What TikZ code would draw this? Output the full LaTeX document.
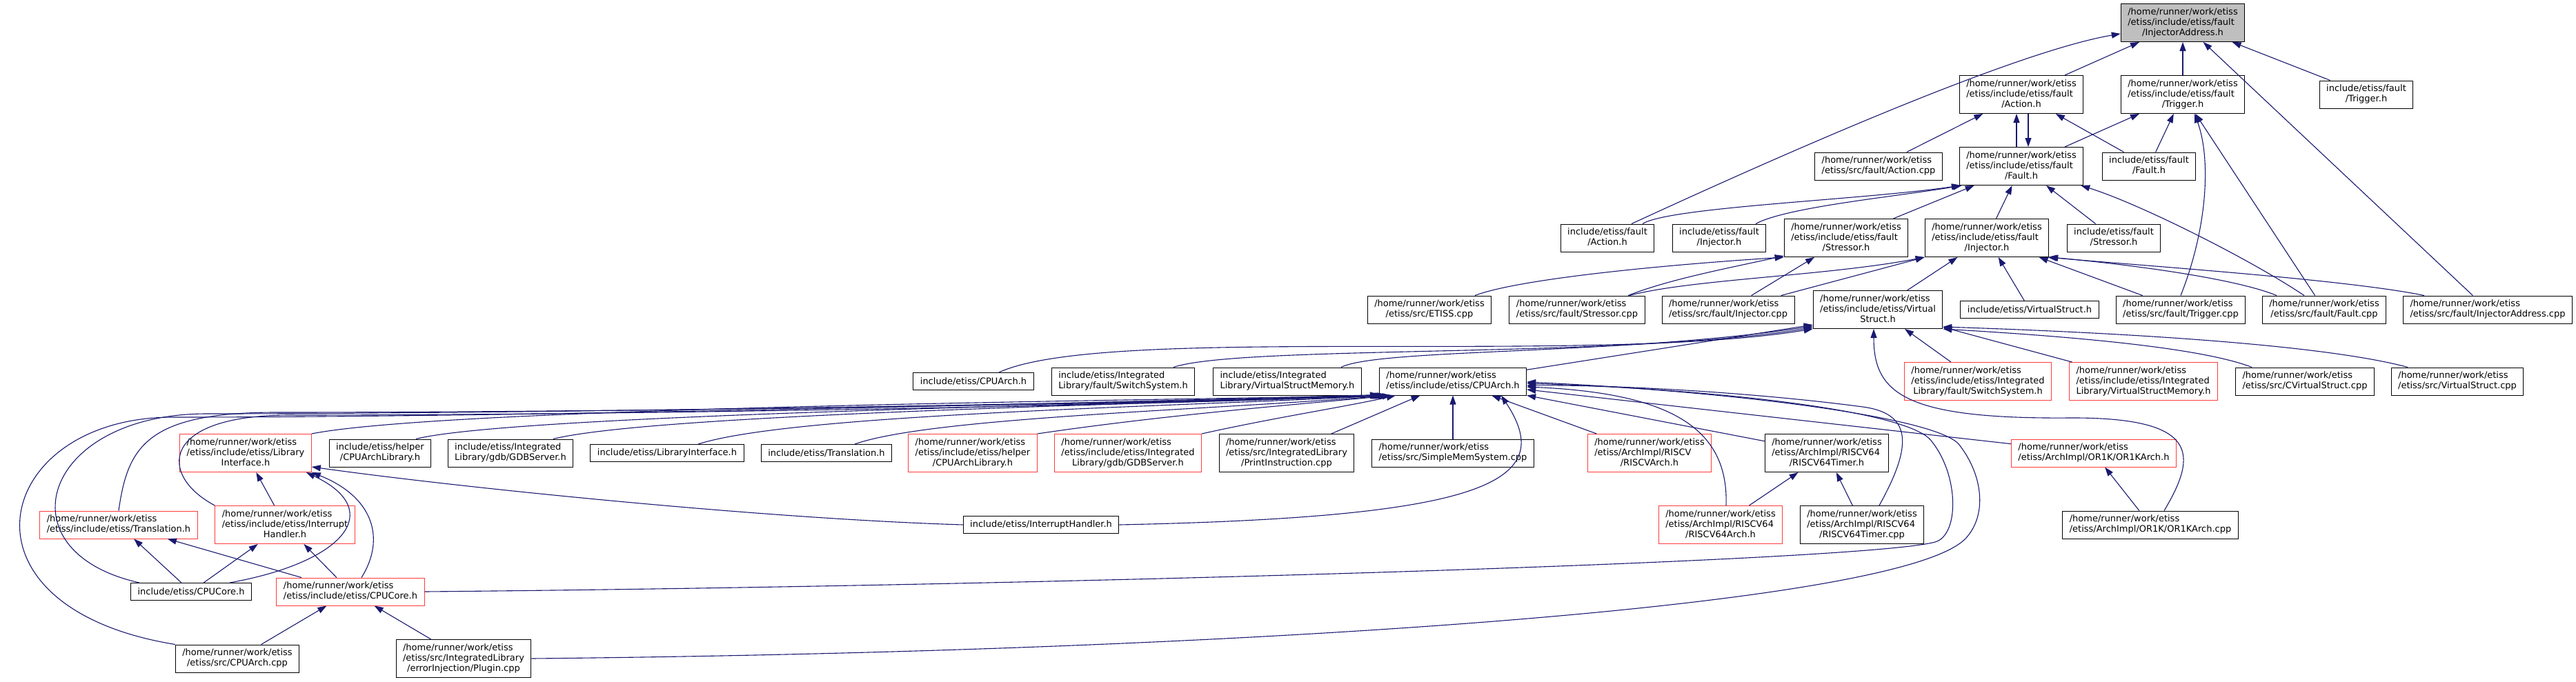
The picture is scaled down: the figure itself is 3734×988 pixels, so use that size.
\documentclass[tikz,border=0pt]{standalone}
\usepackage{fontspec}
\setmainfont{DejaVu Sans}
\usetikzlibrary{arrows.meta,positioning}
\definecolor{edgeblue}{RGB}{25,25,112}
\definecolor{truncred}{RGB}{255,60,60}
\definecolor{rootgray}{RGB}{191,191,191}
\newcommand{\twoline}[2]{\begin{tabular}{@{}l@{}}#1\\\multicolumn{1}{@{}c@{}}{#2}\end{tabular}}
\newcommand{\threeline}[3]{\begin{tabular}{@{}l@{}}#1\\#2\\\multicolumn{1}{@{}c@{}}{#3}\end{tabular}}
\newcommand{\hm}{/home/runner/work/etiss}

\begin{document}
\begin{tikzpicture}[x=1pt, y=-1pt,
  file/.style={draw=black, line width=1pt, fill=white, inner xsep=10pt, inner ysep=5pt, align=center, font=\fontsize{13}{15}\selectfont, minimum height=25pt},
  trunc/.style={file, draw=truncred},
  mainfile/.style={file, fill=rootgray},
  dep/.style={draw=edgeblue, line width=1.1pt, -{Triangle[length=13pt, width=9pt]}}
]
\fill[white] (0,0) rectangle (3734,988);
\useasboundingbox (0,0) rectangle (3734,988);

\node[mainfile] (injAddrH) at (3164,33) {\threeline{\hm}{/etiss/include/etiss/fault}{/InjectorAddress.h}};
\node[file] (actH) at (2930,137) {\threeline{\hm}{/etiss/include/etiss/fault}{/Action.h}};
\node[file] (trgH) at (3164,137) {\threeline{\hm}{/etiss/include/etiss/fault}{/Trigger.h}};
\node[file] (trgI) at (3430,137) {\twoline{include/etiss/fault}{/Trigger.h}};
\node[file] (actCpp) at (2723,241) {\twoline{\hm}{/etiss/src/fault/Action.cpp}};
\node[file] (fltH) at (2930,241) {\threeline{\hm}{/etiss/include/etiss/fault}{/Fault.h}};
\node[file] (fltI) at (3115,241) {\twoline{include/etiss/fault}{/Fault.h}};
\node[file] (actI) at (2330,345) {\twoline{include/etiss/fault}{/Action.h}};
\node[file] (injI) at (2492,345) {\twoline{include/etiss/fault}{/Injector.h}};
\node[file] (strH) at (2676,345) {\threeline{\hm}{/etiss/include/etiss/fault}{/Stressor.h}};
\node[file] (injH) at (2880,345) {\threeline{\hm}{/etiss/include/etiss/fault}{/Injector.h}};
\node[file] (strI) at (3064,345) {\twoline{include/etiss/fault}{/Stressor.h}};
\node[file] (etissCpp) at (2072,449) {\twoline{\hm}{/etiss/src/ETISS.cpp}};
\node[file] (strCpp) at (2286,449) {\twoline{\hm}{/etiss/src/fault/Stressor.cpp}};
\node[file] (injCpp) at (2505,449) {\twoline{\hm}{/etiss/src/fault/Injector.cpp}};
\node[file] (vsH) at (2722,449) {\threeline{\hm}{/etiss/include/etiss/Virtual}{Struct.h}};
\node[file] (vsI) at (2942,449) {include/etiss/VirtualStruct.h};
\node[file] (trgCpp) at (3161,449) {\twoline{\hm}{/etiss/src/fault/Trigger.cpp}};
\node[file] (fltCpp) at (3369,449) {\twoline{\hm}{/etiss/src/fault/Fault.cpp}};
\node[file] (injAddrCpp) at (3606,449) {\twoline{\hm}{/etiss/src/fault/InjectorAddress.cpp}};
\node[file] (archI) at (1411,553) {include/etiss/CPUArch.h};
\node[file] (swI) at (1628,553) {\twoline{include/etiss/Integrated}{Library/fault/SwitchSystem.h}};
\node[file] (vsmI) at (1866,553) {\twoline{include/etiss/Integrated}{Library/VirtualStructMemory.h}};
\node[file] (archH) at (2106,553) {\twoline{\hm}{/etiss/include/etiss/CPUArch.h}};
\node[trunc] (swH) at (2867,553) {\threeline{\hm}{/etiss/include/etiss/Integrated}{Library/fault/SwitchSystem.h}};
\node[trunc] (vsmH) at (3107,553) {\threeline{\hm}{/etiss/include/etiss/Integrated}{Library/VirtualStructMemory.h}};
\node[file] (cvsCpp) at (3341,553) {\twoline{\hm}{/etiss/src/CVirtualStruct.cpp}};
\node[file] (vsCpp) at (3562,553) {\twoline{\hm}{/etiss/src/VirtualStruct.cpp}};
\node[trunc] (liH) at (356,657) {\threeline{\hm}{/etiss/include/etiss/Library}{Interface.h}};
\node[file] (calI) at (551,657) {\twoline{include/etiss/helper}{/CPUArchLibrary.h}};
\node[file] (gdbI) at (740,657) {\twoline{include/etiss/Integrated}{Library/gdb/GDBServer.h}};
\node[file] (liI) at (967,657) {include/etiss/LibraryInterface.h};
\node[file] (trI) at (1198,657) {include/etiss/Translation.h};
\node[trunc] (calH) at (1410,657) {\threeline{\hm}{/etiss/include/etiss/helper}{/CPUArchLibrary.h}};
\node[trunc] (gdbH) at (1635,657) {\threeline{\hm}{/etiss/include/etiss/Integrated}{Library/gdb/GDBServer.h}};
\node[file] (piCpp) at (1865,657) {\threeline{\hm}{/etiss/src/IntegratedLibrary}{/PrintInstruction.cpp}};
\node[file] (smsCpp) at (2106,657) {\twoline{\hm}{/etiss/src/SimpleMemSystem.cpp}};
\node[trunc] (rvH) at (2391,657) {\threeline{\hm}{/etiss/ArchImpl/RISCV}{/RISCVArch.h}};
\node[file] (rv64tH) at (2648,657) {\threeline{\hm}{/etiss/ArchImpl/RISCV64}{/RISCV64Timer.h}};
\node[trunc] (or1kH) at (3035,657) {\twoline{\hm}{/etiss/ArchImpl/OR1K/OR1KArch.h}};
\node[trunc] (trH) at (172,761) {\twoline{\hm}{/etiss/include/etiss/Translation.h}};
\node[trunc] (ihH) at (413,761) {\threeline{\hm}{/etiss/include/etiss/Interrupt}{Handler.h}};
\node[file] (ihI) at (1509,761) {include/etiss/InterruptHandler.h};
\node[trunc] (rv64H) at (2494,761) {\threeline{\hm}{/etiss/ArchImpl/RISCV64}{/RISCV64Arch.h}};
\node[file] (rv64tCpp) at (2699,761) {\threeline{\hm}{/etiss/ArchImpl/RISCV64}{/RISCV64Timer.cpp}};
\node[file] (or1kCpp) at (3117,761) {\twoline{\hm}{/etiss/ArchImpl/OR1K/OR1KArch.cpp}};
\node[file] (coreI) at (277,858) {include/etiss/CPUCore.h};
\node[trunc] (coreH) at (508,858) {\twoline{\hm}{/etiss/include/etiss/CPUCore.h}};
\node[file] (archCpp) at (344,955) {\twoline{\hm}{/etiss/src/CPUArch.cpp}};
\node[file] (plugCpp) at (672,955) {\threeline{\hm}{/etiss/src/IntegratedLibrary}{/errorInjection/Plugin.cpp}};

\draw[dep] (actH) -- (injAddrH);
\draw[dep] (trgH) -- (injAddrH);
\draw[dep] (trgI) -- (injAddrH);
\draw[dep] ([xshift=35pt]actI.north) .. controls (2700,170) and (2950,70) .. (injAddrH.190);
\draw[dep] (injAddrCpp) -- (injAddrH);

\draw[dep] (actCpp) -- (actH);
\draw[dep] ([xshift=-7pt]fltH.north) -- ([xshift=-7pt]actH.south);
\draw[dep] ([xshift=10pt]actH.south) -- ([xshift=10pt]fltH.north);
\draw[dep] (fltI) -- (actH);

\draw[dep] (fltH) -- (trgH);
\draw[dep] (fltI) -- (trgH);
\draw[dep] (trgCpp.north) .. controls (3200,330) and (3205,230) .. ([xshift=17pt]trgH.south);
\draw[dep] (fltCpp) -- (trgH);

\draw[dep] ([xshift=51pt]actI.north) .. controls (2420,300) and (2700,290) .. ([xshift=2pt]fltH.south west);
\draw[dep] ([xshift=53pt]injI.north) .. controls (2590,300) and (2750,285) .. ([xshift=4pt]fltH.south west);
\draw[dep] (strH) -- (fltH);
\draw[dep] (injH) -- (fltH);
\draw[dep] (strI) -- (fltH);
\draw[dep] ([xshift=-29pt]fltCpp.north) .. controls (3260,375) and (3100,295) .. ([xshift=-4pt]fltH.south east);

\draw[dep] ([xshift=66pt]etissCpp.north) .. controls (2200,405) and (2400,385) .. (strH.south west);
\draw[dep] ([xshift=74pt]strCpp.north) .. controls (2420,405) and (2500,390) .. ([yshift=2pt]strH.south west);
\draw[dep] (injCpp) -- (strH);

\draw[dep] ([xshift=76pt]strCpp.north) .. controls (2450,405) and (2650,400) .. (injH.south west);
\draw[dep] (injCpp) -- (injH.south west);
\draw[dep] (vsH) -- (injH);
\draw[dep] (vsI) -- (injH);
\draw[dep] (trgCpp) -- (injH);
\draw[dep] ([xshift=-69pt]fltCpp.north) .. controls (3230,400) and (3050,380) .. (injH.south east);
\draw[dep] ([xshift=-92pt]injAddrCpp.north) .. controls (3400,405) and (3100,385) .. ([xshift=-2pt]injH.south east);

\draw[dep] ([xshift=37pt]archI.north) .. controls (1600,470) and (2300,530) .. (vsH.south west);
\draw[dep] ([xshift=73pt]swI.north) .. controls (1800,500) and (2350,520) .. ([yshift=2pt]vsH.south west);
\draw[dep] ([xshift=78pt]vsmI.north) .. controls (2000,505) and (2350,515) .. ([yshift=4pt]vsH.south west);
\draw[dep] (archH) -- ([yshift=6pt]vsH.south west);
\draw[dep] (swH) -- (vsH);
\draw[dep] (vsmH) -- (vsH);
\draw[dep] ([xshift=-77pt]cvsCpp.north) .. controls (3180,500) and (2950,485) .. (vsH.south east);
\draw[dep] ([xshift=-72pt]vsCpp.north) .. controls (3350,495) and (3000,480) .. ([yshift=3pt]vsH.south east);
\draw[dep] ([xshift=20pt]or1kCpp.north) .. controls (3185,660) and (3190,605) .. (3000,606) .. controls (2760,608) and (2716,570) .. ([xshift=-6pt]vsH.south);

\draw[dep] (liH.north east) .. controls (650,590) and (1700,580) .. ([xshift=10pt]archH.south west);
\draw[dep] ([xshift=52pt]calI.north) .. controls (750,600) and (1700,585) .. ([xshift=6pt]archH.south west);
\draw[dep] ([xshift=62pt]gdbI.north) .. controls (950,600) and (1700,585) .. ([xshift=8pt]archH.south west);
\draw[dep] ([xshift=45pt]liI.north) .. controls (1150,600) and (1700,590) .. ([xshift=12pt]archH.south west);
\draw[dep] ([xshift=41pt]trI.north) .. controls (1350,605) and (1750,595) .. ([xshift=14pt]archH.south west);
\draw[dep] (calH.north east) .. controls (1700,600) and (1900,585) .. ([xshift=18pt]archH.south west);
\draw[dep] (gdbH.north east) .. controls (1850,605) and (1950,590) .. ([xshift=24pt]archH.south west);
\draw[dep] (piCpp) -- (archH);
\draw[dep] (smsCpp) -- (archH);
\draw[dep] (rvH) -- (archH);
\draw[dep] (rv64tH) -- (archH);
\draw[dep] (or1kH) -- (archH);
\draw[dep] ([xshift=8pt]rv64H.north) .. controls (2506,620) and (2420,570) .. ([yshift=-8pt]archH.east);
\draw[dep] ([xshift=25pt]rv64tCpp.north) .. controls (2770,650) and (2775,600) .. (2700,590) .. controls (2550,570) and (2350,558) .. ([yshift=-6pt]archH.east);
\draw[dep] (coreH.east) .. controls (1500,850) and (2700,815) .. (2805,786) .. controls (2840,776) and (2840,690) .. (2800,640) .. controls (2770,597) and (2500,565) .. ([yshift=-3pt]archH.east);
\draw[dep] (plugCpp.east) .. controls (1800,945) and (2760,880) .. (2850,780) .. controls (2880,747) and (2875,690) .. (2840,645) .. controls (2810,606) and (2520,568) .. ([yshift=-1pt]archH.east);
\draw[dep] (ihI.east) .. controls (2150,750) and (2260,700) .. ([xshift=70pt]archH.south);
\draw[dep] (trH.north) .. controls (185,650) and (210,598) .. (400,598) .. controls (900,598) and (1700,585) .. ([xshift=2pt]archH.south west);
\draw[dep] (ihH.north west) .. controls (230,690) and (230,602) .. (420,602) .. controls (900,602) and (1700,587) .. ([xshift=4pt]archH.south west);
\draw[dep] ([xshift=-75pt]coreI.north) .. controls (0,800) and (60,600) .. (300,600) .. controls (800,600) and (1700,583) .. (archH.south west);
\draw[dep] (archCpp.north west) .. controls (-80,880) and (-10,605) .. (250,605) .. controls (800,605) and (1700,581) .. ([yshift=1pt]archH.south west);

\draw[dep] ([xshift=56pt]coreI.north) .. controls (500,815) and (560,740) .. ([xshift=-8pt]liH.south east);
\draw[dep] ([xshift=16pt]coreH.north) .. controls (560,780) and (540,720) .. (liH.south east);
\draw[dep] (ihI.west) .. controls (1100,752) and (650,705) .. ([yshift=-20pt]liH.east);
\draw[dep] (ihH) -- (liH);

\draw[dep] (coreI) -- (trH);
\draw[dep] (coreH) -- (trH);
\draw[dep] (coreI) -- (ihH);
\draw[dep] (coreH) -- (ihH);
\draw[dep] (archCpp) -- (coreH);
\draw[dep] (plugCpp) -- (coreH);

\draw[dep] (rv64H) -- (rv64tH);
\draw[dep] (rv64tCpp) -- (rv64tH);
\draw[dep] (or1kCpp) -- (or1kH);
\end{tikzpicture}
\end{document}
